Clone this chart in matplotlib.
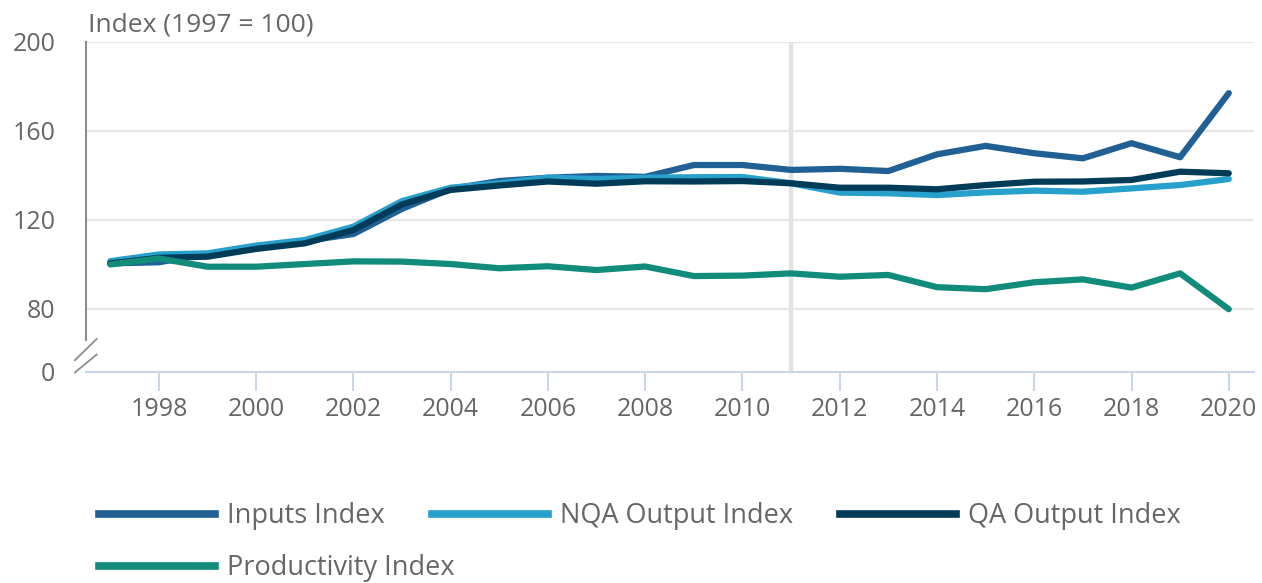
import matplotlib
matplotlib.use('Agg')
import matplotlib.pyplot as plt
from matplotlib.lines import Line2D

plt.rcParams['font.family'] = ['Open Sans', 'DejaVu Sans']

years = list(range(1997, 2021))

inputs_index = [100.5, 101, 104.7, 108, 110.5, 113.7, 125, 134, 137.5, 139, 139.8, 139.4,
                144.7, 144.7, 142.5, 143, 142, 149.5, 153.3, 150, 147.7, 154.5, 148.2, 177]
nqa_output = [101.5, 104.5, 105, 108.5, 111, 117, 128.5, 134.5, 136.5, 139, 138.4, 139,
              139.2, 139.3, 136.5, 132.3, 132, 131.2, 132.4, 133.2, 132.7, 134.2, 135.7, 138.4]
qa_output = [100.5, 103, 103.5, 107, 109.5, 115.5, 127, 133.5, 135.5, 137.3, 136.3, 137.4,
             137.3, 137.5, 136.5, 134.5, 134.5, 133.8, 135.7, 137.2, 137.3, 138, 141.7, 141]
productivity = [100, 102.7, 99, 99, 100.2, 101.4, 101.3, 100.2, 98.3, 99.2, 97.5, 99.1,
                94.8, 95, 96, 94.5, 95.3, 89.8, 88.9, 92, 93.3, 89.6, 96, 79.9]

series = [('Inputs Index', inputs_index, '#206095'),
          ('NQA Output Index', nqa_output, '#27a0cc'),
          ('QA Output Index', qa_output, '#003c57'),
          ('Productivity Index', productivity, '#118c7b')]

x_ticks = list(range(1998, 2021, 2))
y_ticks = [80, 120, 160, 200]
marker_year = 2011
# the axis is broken between 0 and 80; "0" sits at this data position
zero_pos = 51.7

grey = '#666666'

fig = plt.figure(figsize=(12.62, 5.83), dpi=100)
ax = fig.add_axes([0.0681, 0.362, 0.9256, 0.566])

for y in y_ticks:
    ax.axhline(y, color='#e6e6e6', lw=1.5, zorder=0)
ax.axvline(marker_year, color='#e3e3e3', lw=3.2, zorder=0.5)

for name, vals, col in series:
    ax.plot(years, vals, color=col, lw=4.5, solid_capstyle='round',
            solid_joinstyle='round', label=name, zorder=2)

ax.set_xlim(1996.5, 2020.52)
ax.set_ylim(zero_pos, 200)

ax.set_yticks([zero_pos] + y_ticks)
ax.set_yticklabels(['0'] + [str(v) for v in y_ticks])
ax.tick_params(axis='y', length=0, pad=22, labelsize=18, labelcolor=grey)

ax.set_xticks(x_ticks)
ax.tick_params(axis='x', length=14, width=1.5, color='#ccd6eb', pad=4,
               labelsize=18, labelcolor=grey)

for s in ['top', 'right']:
    ax.spines[s].set_visible(False)
ax.spines['bottom'].set_color('#ccd6eb')
ax.spines['bottom'].set_linewidth(1.5)
ax.spines['left'].set_color('#8c8c8c')
ax.spines['left'].set_linewidth(1.5)
ax.spines['left'].set_bounds(66, 200)

# bits of the broken axis
ax.plot([0, 0], [zero_pos, 56.3], color='#8c8c8c', lw=1.5, clip_on=False)
for y0, y1 in [(57.0, 66.5), (51.5, 59.5)]:
    ax.plot([1996.275, 1996.72], [y0, y1], color='#8c8c8c', lw=1.3, clip_on=False)

fig.text(88 / 1262, 1 - 25 / 583, 'Index (1997 = 100)', fontsize=19, color=grey,
         ha='left', va='center')

# flow-style legend below the chart
leg_pos = [(99, 516), (432, 516), (840, 516), (99, 568)]
for (name, vals, col), (px, py) in zip(series, leg_pos):
    h = Line2D([], [], color=col, lw=5.5)
    fig.legend([h], [name], loc='center left',
               bbox_to_anchor=(px / 1262, 1 - py / 583),
               frameon=False, borderpad=0, borderaxespad=0,
               handlelength=4.3, handletextpad=0.42, fontsize=19.5,
               labelcolor=grey)

fig.savefig('out.png', dpi=100)
